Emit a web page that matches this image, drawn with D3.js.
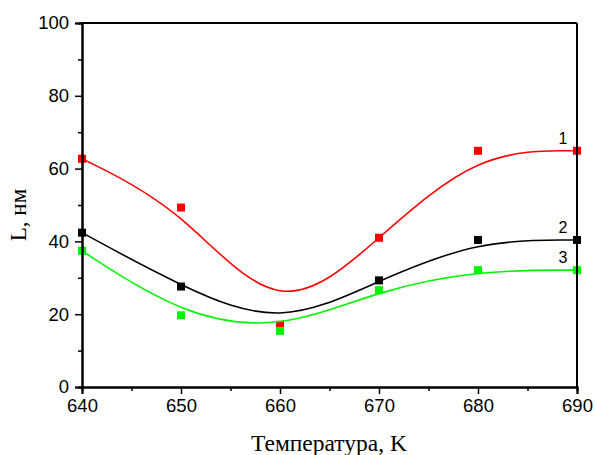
<!DOCTYPE html>
<html>
<head>
<meta charset="utf-8">
<script src="https://cdn.jsdelivr.net/npm/d3@7"></script>
<style>
  body { margin: 0; background: #fff; }
  svg { display: block; }
  .tick text { font-family: "Liberation Sans", Arial, sans-serif; font-size: 18.5px; fill: #000; }
</style>
</head>
<body>
<svg width="595" height="455"></svg>
<script>
const temps = [640, 650, 660, 670, 680, 690];
const series1 = [62.7, 49.3, 17.1, 41.0, 64.9, 64.9];
const series2 = [42.4, 27.6, 16.3, 29.3, 40.4, 40.4];
const series3 = [37.4, 19.7, 15.4, 26.6, 32.1, 32.1];
const seriesLabels = ["1", "2", "3"];
const xTicks = [640, 650, 660, 670, 680, 690];
const yTicks = [0, 20, 40, 60, 80, 100];

const svg = d3.select("svg");
const plotL = 82, plotR = 577, plotT = 23, plotB = 387;

const x = d3.scaleLinear().domain([640, 690]).range([plotL, plotR]);
const y = d3.scaleLinear().domain([0, 100]).range([plotB, plotT]);

// series drawn black first so red and green squares sit on top at 660
const series = [
  { label: seriesLabels[1], values: series2, color: "#000000" },
  { label: seriesLabels[0], values: series1, color: "#ff0000" },
  { label: seriesLabels[2], values: series3, color: "#00f500" }
];

const line = d3.line()
  .x(d => x(d[0]))
  .y(d => y(d[1]))
  .curve(d3.curveBasis);

series.forEach(s => {
  const pts = temps.map((t, i) => [t, s.values[i]]);
  svg.append("path")
    .attr("d", line(pts))
    .attr("fill", "none")
    .attr("stroke", s.color)
    .attr("stroke-width", 1.6);
  svg.selectAll(null).data(pts).enter().append("rect")
    .attr("x", d => x(d[0]) - 4)
    .attr("y", d => y(d[1]) - 4)
    .attr("width", 8)
    .attr("height", 8)
    .attr("fill", s.color);
  svg.append("text")
    .attr("x", x(690) - 14)
    .attr("y", y(s.values[s.values.length - 1]) - 7)
    .attr("text-anchor", "middle")
    .attr("font-family", "Liberation Sans, Arial, sans-serif")
    .attr("font-size", 16)
    .text(s.label);
});

// frame: top and right plain lines
svg.append("line").attr("x1", plotL).attr("x2", plotR).attr("y1", plotT).attr("y2", plotT)
  .attr("stroke", "#000").attr("stroke-width", 2);
svg.append("line").attr("x1", plotR).attr("x2", plotR).attr("y1", plotT).attr("y2", plotB)
  .attr("stroke", "#000").attr("stroke-width", 2);

// bottom axis
const xMinor = svg.append("g").attr("transform", `translate(0,${plotB})`)
  .call(d3.axisBottom(x).tickValues(d3.range(645, 690, 10)).tickSize(4).tickFormat(""));
const xAxis = svg.append("g").attr("transform", `translate(0,${plotB})`)
  .call(d3.axisBottom(x).tickValues(xTicks).tickSize(7).tickPadding(5).tickFormat(d3.format("d")));

// left axis
const yMinor = svg.append("g").attr("transform", `translate(${plotL},0)`)
  .call(d3.axisLeft(y).tickValues(d3.range(10, 100, 20)).tickSize(4).tickFormat(""));
const yAxis = svg.append("g").attr("transform", `translate(${plotL},0)`)
  .call(d3.axisLeft(y).tickValues(yTicks).tickSize(7).tickPadding(6).tickFormat(d3.format("d")));

[xMinor, xAxis, yMinor, yAxis].forEach(g => {
  g.select(".domain").attr("stroke-width", 2).attr("stroke", "#000");
  g.selectAll(".tick line").attr("stroke-width", 1.5).attr("stroke", "#000");
});

// axis titles
svg.append("text")
  .attr("x", 329)
  .attr("y", 451)
  .attr("text-anchor", "middle")
  .attr("font-family", "Liberation Serif, Times New Roman, serif")
  .attr("font-size", 23.5)
  .text("Температура, K");

svg.append("text")
  .attr("transform", "translate(26,215) rotate(-90)")
  .attr("text-anchor", "middle")
  .attr("font-family", "Liberation Serif, Times New Roman, serif")
  .attr("font-size", 23)
  .text("L, нм");
</script>
</body>
</html>
